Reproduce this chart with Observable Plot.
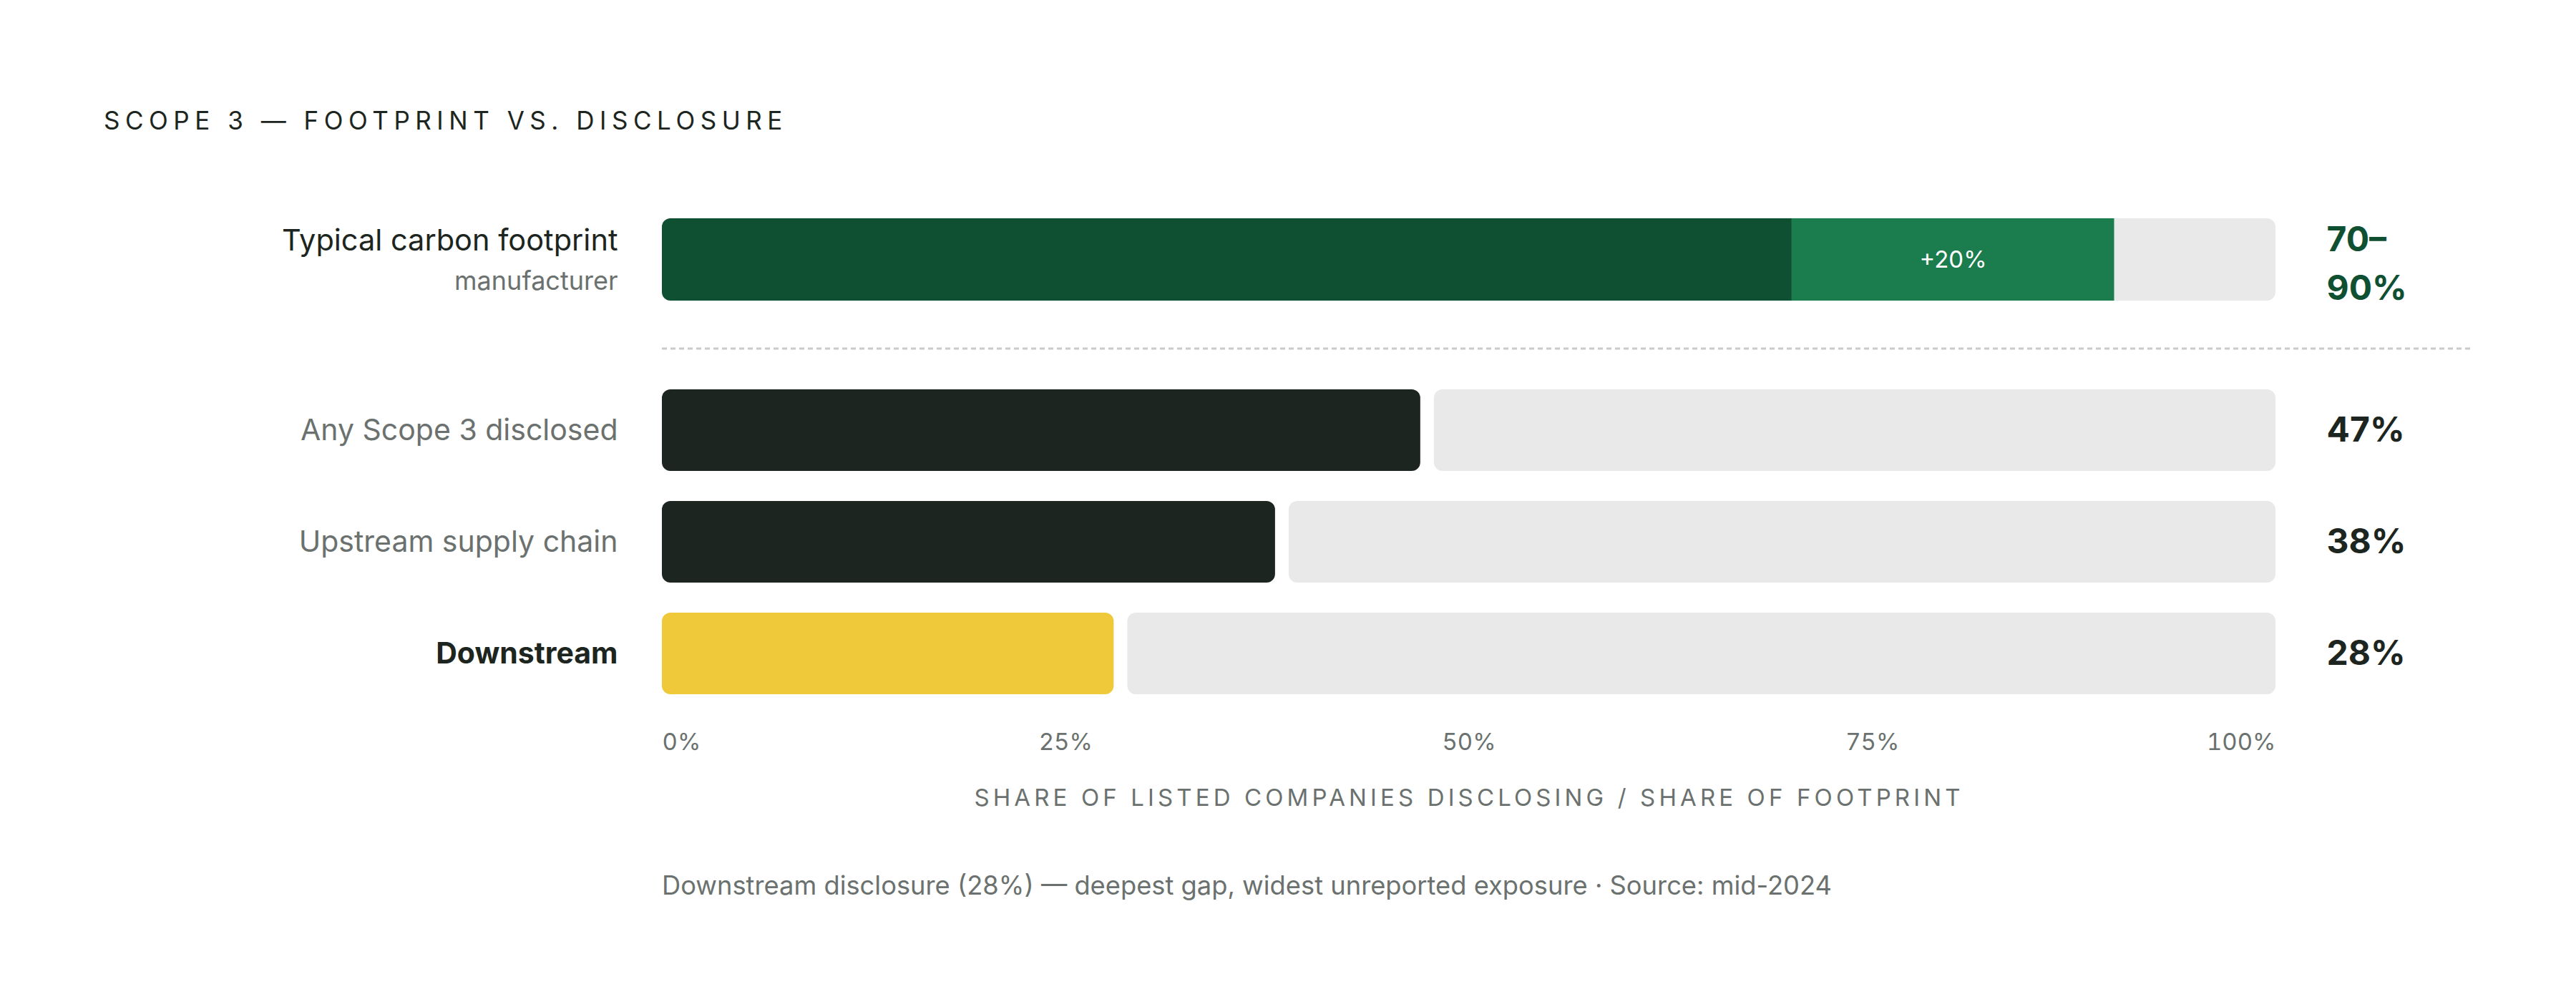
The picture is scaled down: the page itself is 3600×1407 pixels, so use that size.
<!DOCTYPE html>
<html>
<head>
<meta charset="utf-8">
<script src="https://cdn.jsdelivr.net/npm/d3@7"></script>
<script src="https://cdn.jsdelivr.net/npm/@observablehq/plot@0.6"></script>
<style>
  html, body { margin: 0; padding: 0; background: #ffffff; }
  #page { position: relative; width: 3600px; height: 1407px; overflow: hidden; font-family: Inter, "DejaVu Sans", sans-serif; }
  #title { position: absolute; left: 145px; top: 150px; font-size: 35px; line-height: 36px; letter-spacing: 0.215em; color: #1d2520; white-space: nowrap; }
  #plotA { position: absolute; left: 0; top: 280px; }
  #sep { position: absolute; left: 0; top: 476px; }
  #plotB { position: absolute; left: 0; top: 500px; }
  #caption { position: absolute; left: 925px; top: 1218px; font-size: 36.3px; line-height: 38px; color: #6b716e; white-space: nowrap; }
</style>
</head>
<body>
<div id="page">
  <div id="title"></div>
  <div id="plotA"></div>
  <div id="sep"></div>
  <div id="plotB"></div>
  <div id="caption"></div>
</div>
<script>
// ---- data ----
const chartTitle = "SCOPE 3 — FOOTPRINT VS. DISCLOSURE";
const footprintLabel = "Typical carbon footprint";
const footprintSub = "manufacturer";
const footprintLow = 70;
const footprintHigh = 90;
const disclosureCategories = ["Any Scope 3 disclosed", "Upstream supply chain", "Downstream"];
const disclosureValues = [47, 38, 28];
const highlightCategory = "Downstream";
const xTicks = [0, 25, 50, 75, 100];
const axisTitle = "SHARE OF LISTED COMPANIES DISCLOSING / SHARE OF FOOTPRINT";
const captionText = "Downstream disclosure (28%) — deepest gap, widest unreported exposure · Source: mid-2024";

// ---- styles ----
const DARK_GREEN = "#0f4f32";
const GREEN = "#1b7c4d";
const DARK = "#1d2520";
const YELLOW = "#f0c93b";
const TRACK = "#e8e9e8";
const GRAY = "#6b716e";
const FONT = "Inter, 'DejaVu Sans', sans-serif";

document.getElementById("title").textContent = chartTitle;
document.getElementById("caption").textContent = captionText;

const common = {
  width: 3600,
  marginLeft: 925,
  marginRight: 420,
  style: {fontFamily: FONT, background: "transparent", overflow: "visible"}
};

// ---- footprint row ----
const footprintSegments = [
  {label: footprintLabel, start: 0, end: footprintLow, kind: "core"},
  {label: footprintLabel, start: footprintLow, end: footprintHigh, kind: "range"}
];

const plotA = Plot.plot({
  ...common,
  height: 180,
  marginTop: 25,
  marginBottom: 40,
  x: {domain: [0, 100], axis: null},
  y: {domain: [footprintLabel], axis: null, padding: 0},
  marks: [
    Plot.barX([footprintLabel], {x1: () => 0, x2: () => 100, y: d => d, fill: TRACK, rx: 12}),
    Plot.barX(footprintSegments.filter(d => d.kind === "core"), {x1: "start", x2: "end", y: "label", fill: DARK_GREEN, rx: 12, insetRight: -16}),
    Plot.barX(footprintSegments.filter(d => d.kind === "range"), {x1: "start", x2: "end", y: "label", fill: GREEN}),
    Plot.text(footprintSegments.filter(d => d.kind === "range"), {
      x: d => (d.start + d.end) / 2, y: "label",
      text: d => `+${d.end - d.start}%`, fill: "#ffffff", fontSize: 33, fontWeight: 400
    }),
    Plot.text([footprintLabel], {y: d => d, frameAnchor: "left", dx: -62, dy: -26, textAnchor: "end", text: d => d, fontSize: 41.5, fill: DARK}),
    Plot.text([footprintSub], {y: () => footprintLabel, frameAnchor: "left", dx: -62, dy: 30, textAnchor: "end", text: d => d, fontSize: 36, fill: GRAY}),
    Plot.text([footprintLabel], {
      y: d => d, frameAnchor: "right", dx: 71, textAnchor: "start",
      text: () => `${footprintLow}–\n${footprintHigh}%`, lineHeight: 1.42,
      fontSize: 48, fontWeight: 700, fill: DARK_GREEN
    })
  ]
});
document.getElementById("plotA").appendChild(plotA);

// ---- separator ----
const sepSvg = d3.create("svg").attr("width", 3600).attr("height", 20);
sepSvg.append("line").attr("x1", 925).attr("x2", 3455).attr("y1", 11).attr("y2", 11)
  .attr("stroke", "#c9cac9").attr("stroke-width", 3).attr("stroke-dasharray", "7 5");
document.getElementById("sep").appendChild(sepSvg.node());

// ---- disclosure rows ----
const rows = disclosureCategories.map((label, i) => ({label, value: disclosureValues[i]}));
const pct = d => `${d}%`;

const plotB = Plot.plot({
  ...common,
  height: 660,
  marginTop: 44,
  marginBottom: 190,
  x: {domain: [0, 100], axis: null},
  y: {domain: disclosureCategories, axis: null, paddingInner: 0.27, paddingOuter: 0},
  marks: [
    Plot.barX(rows, {x1: "value", x2: () => 100, y: "label", fill: TRACK, rx: 12, insetLeft: 19}),
    Plot.barX(rows, {x1: () => 0, x2: "value", y: "label", fill: d => d.label === highlightCategory ? YELLOW : DARK, rx: 12}),
    Plot.text(rows.filter(d => d.label !== highlightCategory), {y: "label", frameAnchor: "left", dx: -62, textAnchor: "end", text: "label", fontSize: 41, fill: GRAY}),
    Plot.text(rows.filter(d => d.label === highlightCategory), {y: "label", frameAnchor: "left", dx: -62, textAnchor: "end", text: "label", fontSize: 41, fontWeight: 700, fill: DARK}),
    Plot.text(rows, {y: "label", frameAnchor: "right", dx: 71, textAnchor: "start", text: d => pct(d.value), fontSize: 48, fontWeight: 700, fill: DARK}),
    Plot.axisX({ticks: xTicks.filter(t => t === 0), tickFormat: pct, tickSize: 0, tickPadding: 54, textAnchor: "start", fontSize: 33, color: GRAY, label: null}),
    Plot.axisX({ticks: xTicks.filter(t => t > 0 && t < 100), tickFormat: pct, tickSize: 0, tickPadding: 54, fontSize: 33, color: GRAY, label: null}),
    Plot.axisX({ticks: xTicks.filter(t => t === 100), tickFormat: pct, tickSize: 0, tickPadding: 54, textAnchor: "end", fontSize: 33, color: GRAY, label: null}),
    Plot.text([axisTitle], {frameAnchor: "bottom", dy: 155, text: d => d, fontSize: 33, fill: GRAY})
  ]
});
// letter-spaced axis title
d3.select(plotB).selectAll("text").filter(function() { return this.textContent === axisTitle; })
  .style("letter-spacing", "0.155em");
document.getElementById("plotB").appendChild(plotB);
</script>
</body>
</html>
